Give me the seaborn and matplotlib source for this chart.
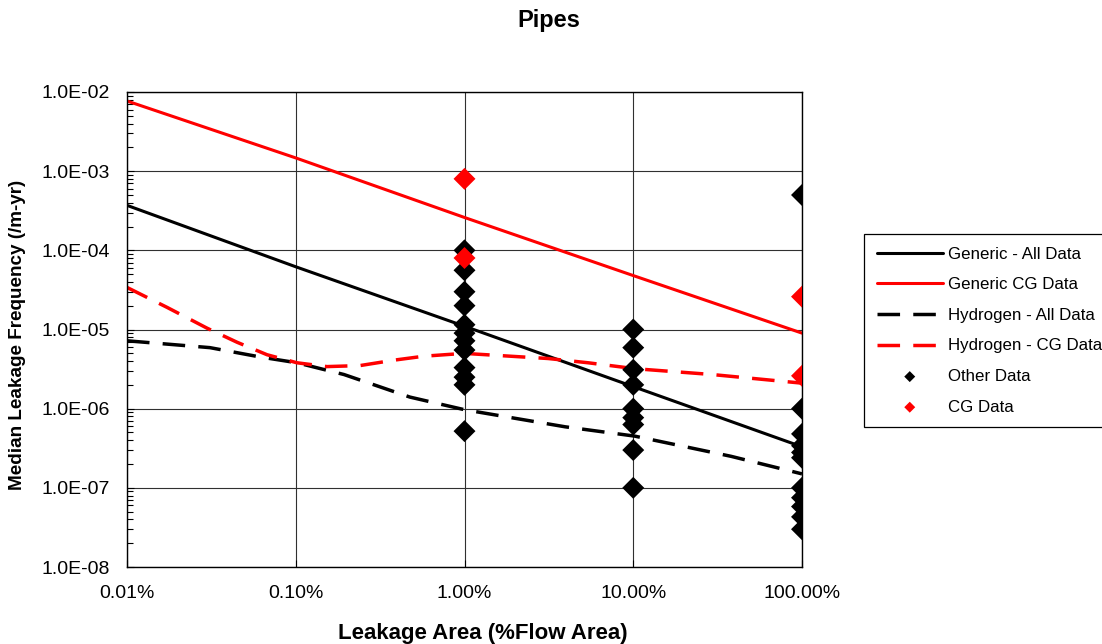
import matplotlib
matplotlib.use("Agg")
import matplotlib.pyplot as plt
import seaborn as sns
import pandas as pd

# ---------------- data ----------------
decades = [0.01, 0.1, 1, 10, 100]          # leakage area, % of flow area
x_tick_labels = ["0.01%", "0.10%", "1.00%", "10.00%", "100.00%"]
y_ticks = [1e-8, 1e-7, 1e-6, 1e-5, 1e-4, 1e-3, 1e-2]
y_tick_labels = ["1.0E-08", "1.0E-07", "1.0E-06", "1.0E-05", "1.0E-04", "1.0E-03", "1.0E-02"]

generic_all = [3.7e-4, 6.2e-5, 1.1e-5, 1.9e-6, 3.3e-7]
generic_cg = [7.7e-3, 1.47e-3, 2.6e-4, 4.8e-5, 9.0e-6]

h2_all_x = [0.01, 0.031, 0.0614, 0.1016, 0.193, 0.475, 1.0, 3.95, 10.2, 38, 100]
h2_all_y = [7.2e-6, 5.9e-6, 4.5e-6, 3.8e-6, 2.7e-6, 1.4e-6, 9.7e-7, 5.9e-7, 4.5e-7, 2.5e-7, 1.5e-7]

h2_cg_x = [0.01, 0.0173, 0.0298, 0.0449, 0.0676, 0.1016, 0.153, 0.240, 0.382, 0.575,
           1.0, 1.15, 3.13, 5.4, 10.2, 29.3, 100]
h2_cg_y = [3.4e-5, 1.9e-5, 1.04e-5, 6.9e-6, 4.8e-6, 3.8e-6, 3.4e-6, 3.5e-6, 4.1e-6, 4.6e-6,
           5.0e-6, 4.9e-6, 4.3e-6, 3.8e-6, 3.2e-6, 2.7e-6, 2.1e-6]

other_1 = [1.0e-4, 5.6e-5, 3.0e-5, 2.0e-5, 1.15e-5, 9e-6, 7.2e-6, 5.5e-6, 3.3e-6, 2.5e-6, 2.0e-6, 5.2e-7]
other_10 = [1e-5, 5.9e-6, 3.1e-6, 2.0e-6, 1e-6, 7.7e-7, 6.3e-7, 3e-7, 1e-7]
other_100 = [5e-4, 1e-6, 4.8e-7, 3.4e-7, 2.8e-7, 2.4e-7, 1e-7, 7.5e-8, 5.8e-8, 4.3e-8, 3e-8]
cg_1 = [8e-4, 8e-5]
cg_100 = [2.6e-5, 2.6e-6]

# ---------------- tables ----------------
df_gen = pd.DataFrame({"x": decades, "all": generic_all, "cg": generic_cg})
df_h2a = pd.DataFrame({"x": h2_all_x, "y": h2_all_y})
df_h2c = pd.DataFrame({"x": h2_cg_x, "y": h2_cg_y})
df_other = pd.DataFrame({
    "x": [1] * len(other_1) + [10] * len(other_10) + [100] * len(other_100),
    "y": other_1 + other_10 + other_100})
df_cg = pd.DataFrame({"x": [1] * len(cg_1) + [100] * len(cg_100), "y": cg_1 + cg_100})

# ---------------- style ----------------
sns.set_theme(style="white")
plt.rcParams["font.family"] = ["Liberation Sans", "DejaVu Sans"]
plt.rcParams["text.color"] = "black"
plt.rcParams["xtick.color"] = "black"
plt.rcParams["ytick.color"] = "black"

fig = plt.figure(figsize=(11.02, 6.44), dpi=100)
ax = fig.add_axes([127 / 1102, 1 - 567 / 644, (802 - 127) / 1102, (567 - 92) / 644])
ax.set_xscale("log")
ax.set_yscale("log")

lw = 2.2
sns.lineplot(data=df_gen, x="x", y="all", ax=ax, color="black", lw=lw,
             estimator=None, sort=False, label="Generic - All Data")
sns.lineplot(data=df_gen, x="x", y="cg", ax=ax, color="red", lw=lw,
             estimator=None, sort=False, label="Generic CG Data")
sns.lineplot(data=df_h2a, x="x", y="y", ax=ax, color="black", lw=lw + 0.3,
             estimator=None, sort=False, label="Hydrogen - All Data")
sns.lineplot(data=df_h2c, x="x", y="y", ax=ax, color="red", lw=lw + 0.3,
             estimator=None, sort=False, label="Hydrogen - CG Data")
ax.lines[2].set_dashes((6.5, 3.8))
ax.lines[3].set_dashes((6.5, 3.8))

sns.scatterplot(data=df_other, x="x", y="y", ax=ax, marker="D", s=125, color="black",
                edgecolor="none", label="Other Data", zorder=3)
sns.scatterplot(data=df_cg, x="x", y="y", ax=ax, marker="D", s=125, color="red",
                edgecolor="none", label="CG Data", zorder=4)

ax.set_xlim(0.01, 100)
ax.set_ylim(1e-8, 1e-2)
ax.set_xticks(decades)
ax.set_xticklabels(x_tick_labels)
ax.xaxis.set_minor_locator(matplotlib.ticker.NullLocator())
ax.set_yticks(y_ticks)
ax.set_yticklabels(y_tick_labels)
ax.yaxis.set_minor_locator(matplotlib.ticker.LogLocator(base=10, subs=range(2, 10)))
ax.yaxis.set_minor_formatter(matplotlib.ticker.NullFormatter())

ax.tick_params(axis="both", which="major", direction="in", length=5, width=0.8,
               labelsize=14, colors="black", left=True, bottom=True)
ax.tick_params(axis="y", which="major", pad=12)
ax.tick_params(axis="x", which="major", pad=13)
ax.tick_params(axis="y", which="minor", direction="in", length=4, width=0.8, left=True)
ax.grid(True, which="major", color="#303030", lw=0.8)
for sp in ax.spines.values():
    sp.set_color("black")
    sp.set_linewidth(1.0)

ax.set_xlabel("")
ax.set_ylabel("")
fig.text(483 / 1102, 1 - 634 / 644, "Leakage Area (%Flow Area)", ha="center", va="center",
         fontsize=16, fontweight="bold")
fig.text(18 / 1102, 1 - 335 / 644, "Median Leakage Frequency (/m-yr)", ha="center", va="center",
         rotation=90, fontsize=13.6, fontweight="bold")
fig.text(549 / 1102, 1 - 21 / 644, "Pipes", ha="center", va="center",
         fontsize=17, fontweight="bold")

handles, labels = ax.get_legend_handles_labels()
leg = ax.legend(handles, labels, loc="upper left", bbox_to_anchor=(864 / 1102, 1 - 234 / 644),
                bbox_transform=fig.transFigure, fontsize=12.2, frameon=True, fancybox=False,
                edgecolor="black", framealpha=1, handlelength=3.9, labelspacing=0.92,
                borderpad=0.75, handletextpad=0.3, markerscale=0.5, borderaxespad=0)
leg.get_frame().set_linewidth(0.9)

fig.savefig("out.png", dpi=100, facecolor="white")
